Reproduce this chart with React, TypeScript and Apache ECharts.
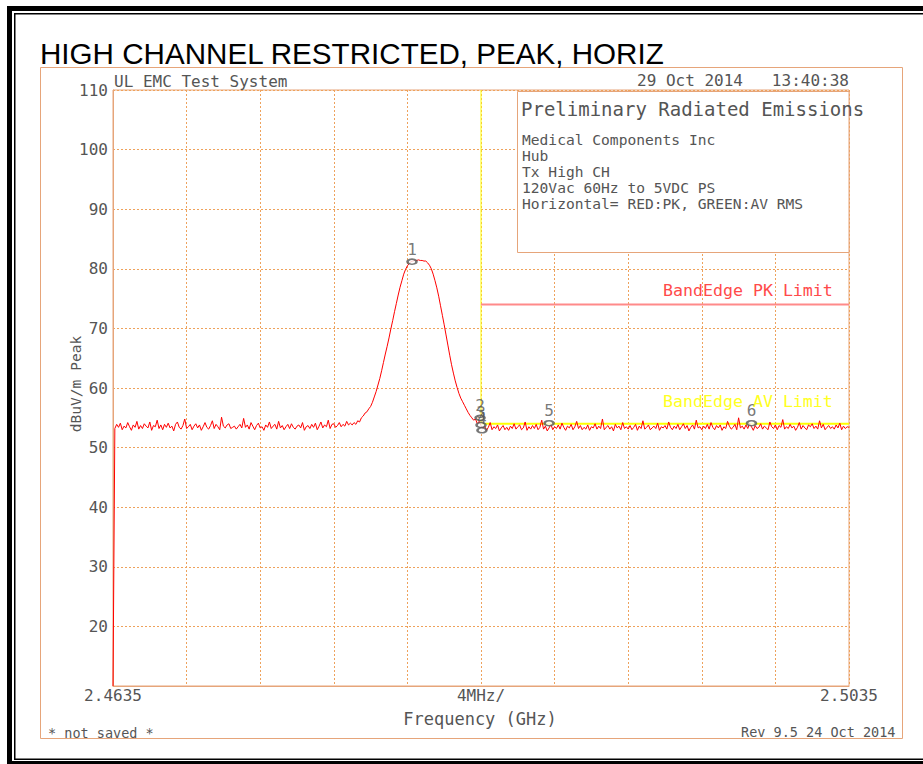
import React, { useEffect, useRef } from "react";
import * as echarts from "echarts";

// ---- Data (x = frequency offset in MHz from 2.4635 GHz, span 40 MHz) ----
const SPAN_MHZ = 40;
const X_LABEL_POS = [0, 20, 40];
const X_LABEL_TEXT = ["2.4635", "4MHz/", "2.5035"];
const Y_MIN = 10;
const Y_MAX = 110;
const Y_STEP = 10;

const TRACE_START = [10];
const TRACE_LOW = [
  53.2, 53.9, 53.4, 54.1, 53.0, 53.6, 53.3, 54.2, 53.5, 52.9,
  53.8, 53.4, 54.4, 53.1, 53.7, 53.2, 54.0, 53.6, 53.3, 54.3,
  52.9, 53.7, 53.5, 54.6, 53.2, 53.8, 53.0, 53.9, 53.4, 54.1,
  53.3, 53.6, 52.8, 53.9, 54.3, 53.4, 53.1, 53.7, 54.8, 53.2,
  53.5, 53.9, 53.0, 53.6, 54.0, 53.3, 53.8, 52.9, 53.5, 54.2,
  53.4, 53.1, 53.7, 54.5, 53.2, 53.9, 53.5, 53.0, 55.1, 53.6,
  53.3, 53.8, 54.0, 53.2, 53.4, 53.6, 53.1, 53.5, 53.9, 53.3,
  54.9, 53.4, 53.8, 53.1, 54.2, 53.6, 53.0, 53.7, 54.1, 53.3,
  53.5, 52.9, 53.8, 53.4, 54.3, 53.2, 53.6, 53.9, 53.1, 54.4,
  53.3, 53.7, 53.0, 53.5, 53.9, 53.2, 54.0, 53.4, 53.1, 53.6,
  53.8, 53.3, 54.2, 52.9, 53.5, 53.7, 53.2, 53.9, 53.4, 54.1,
  53.0, 53.6, 54.3, 53.3, 53.8, 53.5, 54.6, 53.2, 53.9, 54.0,
  53.4, 53.7, 54.2, 53.5, 53.9, 53.6, 54.4, 53.8, 54.1,
];
const TRACE_PEAK = [
  53.8, 54.2, 53.9, 54.5, 54.3, 55.0, 55.3, 55.8, 56.0, 56.5,
  56.9, 57.6, 58.5, 59.4, 60.5, 61.6, 62.9, 64.3, 65.7, 67.0,
  68.4, 69.9, 71.3, 72.8, 74.2, 75.6, 76.9, 78.0, 79.1, 79.9,
  80.5, 80.9, 81.2, 81.3, 81.4, 81.4, 81.5, 81.4, 81.4, 81.3,
  81.3, 81.0, 80.6, 80.0, 79.1, 78.0, 76.8, 75.4, 73.8, 72.2,
  70.6, 68.9, 67.2, 65.5, 63.9, 62.5, 61.2, 60.1, 59.1, 58.3,
  57.7, 57.1, 56.5, 55.9, 55.4, 55.0, 54.6, 54.8, 54.0, 54.4,
  53.7,
];
const TRACE_HIGH = [
  53.1, 53.6, 52.9, 53.4, 54.2, 53.0, 53.5, 53.2, 53.8, 52.8,
  53.3, 53.7, 53.0, 53.4, 52.9, 53.6, 53.2, 54.0, 53.1, 53.5,
  53.8, 53.0, 53.3, 54.3, 52.9, 53.5, 53.1, 53.7, 53.2, 53.9,
  53.0, 53.4, 54.6, 53.1, 53.6, 52.8, 53.3, 53.9, 53.0, 53.5,
  53.2, 53.8, 53.1, 54.1, 53.4, 52.9, 53.6, 53.3, 53.9, 53.0,
  53.5, 54.4, 53.2, 53.7, 53.0, 53.4, 53.1, 53.8, 52.9, 53.5,
  53.3, 54.0, 53.1, 53.6, 53.2, 54.8, 53.0, 53.4, 53.7, 53.1,
  53.5, 52.8, 53.9, 53.3, 53.6, 53.0, 54.2, 53.2, 53.5, 53.1,
  53.7, 53.0, 53.4, 53.9, 52.9, 53.6, 53.2, 54.5, 53.1, 53.4,
  53.8, 53.0, 53.3, 53.6, 53.2, 54.1, 52.9, 53.5, 53.3, 53.7,
  53.1, 54.3, 53.4, 53.0, 53.6, 53.2, 53.9, 53.0, 53.5, 54.0,
  53.2, 53.7, 52.8, 53.4, 53.8, 53.1, 54.6, 53.3, 53.5, 53.0,
  53.6, 53.2, 53.9, 53.1, 54.2, 53.4, 53.0, 53.7, 53.3, 53.8,
  52.9, 53.5, 53.2, 54.4, 53.6, 53.1, 53.4, 53.9, 53.0, 55.0,
  53.3, 53.6, 53.1, 53.8, 53.2, 54.1, 53.5, 52.9, 53.7, 53.2,
  53.4, 54.0, 53.1, 53.6, 53.3, 53.0, 54.3, 53.5, 53.2, 53.8,
  53.0, 53.7, 53.4, 54.7, 53.1, 53.5, 53.2, 53.9, 53.3, 53.6,
  52.9, 53.4, 54.2, 53.1, 53.7, 53.3, 53.0, 53.8, 53.5, 54.0,
  53.2, 53.6, 53.1, 54.5, 53.3, 53.9, 53.0, 53.4, 53.7, 53.2,
  53.5, 53.1, 53.8, 53.3, 54.1, 53.0, 53.6, 53.2, 53.5, 53.4,
];

const BAND_EDGE = 20; // 2.4835 GHz
const PK_LIMIT = 74;
const AV_LIMIT = 54;

const MARKER_NAMES = ["1", "2", "3", "4", "5", "6"];
const MARKER_FREQ = [16.25, 19.95, 20.0, 20.05, 23.7, 34.7];
const MARKER_LEVEL = [81.2, 55.0, 53.8, 52.9, 54.1, 54.1];

const TITLE = "HIGH CHANNEL RESTRICTED, PEAK, HORIZ";
const INFO_HEADER = "Preliminary Radiated Emissions";
const INFO_LINES = [
  "Medical Components Inc",
  "Hub",
  "Tx High CH",
  "120Vac 60Hz to 5VDC PS",
  "Horizontal= RED:PK, GREEN:AV RMS",
];

const MONO = "'DejaVu Sans Mono', 'Liberation Mono', monospace";
const GRAY = "#555555";
const FRAME = "#e6a57a";
const GRID = "#eea25c";

export default function App() {
  const ref = useRef<HTMLDivElement>(null);

  useEffect(() => {
    if (!ref.current) return;
    const chart = echarts.init(ref.current, null, { renderer: "svg" });
    const trace = [...TRACE_START, ...TRACE_LOW, ...TRACE_PEAK, ...TRACE_HIGH];
    const traceData = trace.map((v, i) => [(i * SPAN_MHZ) / (trace.length - 1), v]);
    const markerData = MARKER_NAMES.map((n, i) => ({
      name: n,
      value: [MARKER_FREQ[i], MARKER_LEVEL[i]],
    }));

    const txt = (
      x: number,
      y: number,
      text: string,
      size: number,
      color = GRAY,
      align = "left",
      extra: any = {}
    ) => ({
      type: "text",
      x,
      y,
      z: 100,
      ...extra,
      style: {
        text,
        fill: color,
        fontSize: size,
        fontFamily: MONO,
        align,
        verticalAlign: "middle",
      },
    });

    const blk = (x: number, y: number, w: number, h: number) => ({
      type: "rect",
      shape: { x, y, width: w, height: h },
      style: { fill: "#000" },
      z: 100,
    });

    const option: any = {
      animation: false,
      backgroundColor: "#fff",
      grid: { left: 113, top: 90, right: 74, bottom: 78, show: true, borderColor: FRAME, borderWidth: 1 },
      xAxis: {
        type: "value",
        min: 0,
        max: SPAN_MHZ,
        interval: 4,
        axisLine: { show: true, lineStyle: { color: FRAME } },
        axisTick: { show: false },
        splitLine: { show: true, lineStyle: { color: GRID, type: [2, 2], width: 1 } },
        axisLabel: {
          margin: 1,
          color: GRAY,
          fontSize: 16,
          fontFamily: MONO,
          formatter: (v: number) => {
            const k = X_LABEL_POS.indexOf(Math.round(v));
            return k >= 0 ? X_LABEL_TEXT[k] : "";
          },
        },
      },
      yAxis: {
        type: "value",
        min: Y_MIN,
        max: Y_MAX,
        interval: Y_STEP,
        axisLine: { show: true, lineStyle: { color: FRAME } },
        axisTick: { show: false },
        splitLine: { show: true, lineStyle: { color: GRID, type: [2, 2], width: 1 } },
        axisLabel: {
          margin: 5,
          color: GRAY,
          fontSize: 16,
          fontFamily: MONO,
          formatter: (v: number) => (v === Y_MIN ? "" : String(v)),
        },
      },
      series: [
        {
          type: "line",
          data: [[BAND_EDGE, Y_MAX], [BAND_EDGE, AV_LIMIT]],
          symbol: "none",
          lineStyle: { color: "#ffff00", width: 1 },
          silent: true,
          z: 2,
        },
        {
          type: "line",
          data: [[BAND_EDGE, AV_LIMIT], [SPAN_MHZ, AV_LIMIT]],
          symbol: "none",
          lineStyle: { color: "#ffff00", width: 2 },
          silent: true,
          z: 2,
        },
        {
          type: "line",
          data: [[BAND_EDGE, PK_LIMIT], [SPAN_MHZ, PK_LIMIT]],
          symbol: "none",
          lineStyle: { color: "#ff8a8a", width: 2 },
          silent: true,
          z: 2,
        },
        {
          type: "line",
          data: traceData,
          symbol: "none",
          lineStyle: { color: "#ff0000", width: 1 },
          silent: true,
          z: 3,
        },
        {
          type: "scatter",
          data: markerData,
          symbol: "emptyCircle",
          symbolSize: [9, 5],
          itemStyle: { color: GRAY, borderColor: GRAY, borderWidth: 1 },
          label: {
            show: true,
            position: "top",
            distance: 1,
            formatter: "{b}",
            color: GRAY,
            fontSize: 16,
            fontFamily: MONO,
          },
          silent: true,
          z: 4,
        },
      ],
      graphic: [
        // black double border
        blk(7, 6, 916, 5),
        blk(14, 13, 909, 1.5),
        blk(7, 6, 5, 758),
        blk(14, 13, 1.5, 747),
        blk(14, 758.5, 909, 1.5),
        blk(7, 761, 916, 3),
        // orange outer frame
        {
          type: "rect",
          shape: { x: 40.5, y: 67.5, width: 862, height: 671 },
          style: { fill: "none", stroke: FRAME, lineWidth: 1 },
          z: 100,
        },
        // title
        {
          type: "text",
          x: 40,
          y: 53,
          z: 100,
          style: {
            text: TITLE,
            fill: "#000",
            fontSize: 29.6,
            fontFamily: "'Liberation Sans', Arial, sans-serif",
            align: "left",
            verticalAlign: "middle",
          },
        },
        txt(114, 81, "UL EMC Test System", 16),
        txt(637, 80, "29 Oct 2014   13:40:38", 16),
        // info box
        {
          type: "rect",
          shape: { x: 517.5, y: 91.5, width: 331.5, height: 161 },
          style: { fill: "#fff", stroke: FRAME, lineWidth: 1 },
          z: 99,
        },
        txt(521, 109, INFO_HEADER, 19),
        ...INFO_LINES.map((l, i) => txt(522, 139 + i * 16, l, 14.6)),
        // limit labels
        txt(663, 290, "BandEdge PK Limit", 16.6, "#ff4a4a"),
        txt(663, 401, "BandEdge AV Limit", 16.6, "#ffff22"),
        // axis titles
        txt(480, 719, "Frequency (GHz)", 17, GRAY, "center"),
        txt(75, 384, "dBuV/m Peak", 14.6, GRAY, "center", { rotation: Math.PI / 2 }),
        // footer
        txt(48, 733, "* not saved *", 13.5),
        txt(741, 732, "Rev 9.5 24 Oct 2014", 13.5),
      ],
    };

    chart.setOption(option);
    return () => chart.dispose();
  }, []);

  return (
    <div
      ref={ref}
      style={{ position: "fixed", left: 0, top: 0, width: 923, height: 764, background: "#fff" }}
    />
  );
}
